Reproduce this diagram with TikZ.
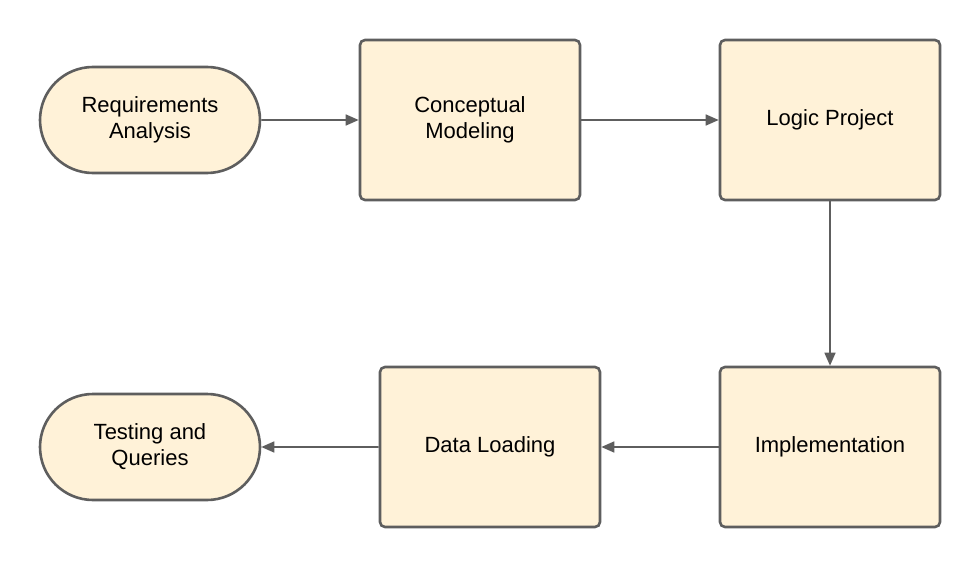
\documentclass[tikz,border=0pt]{standalone}
\usepackage{fontspec}
\setmainfont{Liberation Sans}
\usetikzlibrary{shapes.misc,arrows.meta}
\definecolor{boxfill}{HTML}{FFF2D8}
\definecolor{boxline}{HTML}{5E5E5E}
\begin{document}
\begin{tikzpicture}[x=1pt,y=-1pt,
  base/.style={draw=boxline,fill=boxfill,line width=2.6pt,align=center,
    font=\fontsize{22}{26}\selectfont,inner sep=0pt},
  procbox/.style={base,rounded corners=5pt,minimum width=220pt,minimum height=160pt},
  term/.style={base,rounded rectangle,minimum width=220pt,minimum height=106pt},
  conn/.style={draw=boxline,line width=1.6pt,-{Triangle[length=13pt,width=11pt]}}]
\useasboundingbox (0,0) rectangle (980,567);
\node[term] (ra) at (150,120) {Requirements\\Analysis};
\node[procbox] (cm) at (470,120) {Conceptual\\Modeling};
\node[procbox] (lp) at (830,120) {Logic Project};
\node[procbox] (im) at (830,447) {Implementation};
\node[procbox] (dl) at (490,447) {Data Loading};
\node[term] (tq) at (150,447) {Testing and\\Queries};
\draw[conn] (ra) -- (cm);
\draw[conn] (cm) -- (lp);
\draw[conn] (lp) -- (im);
\draw[conn] (im) -- (dl);
\draw[conn] (dl) -- (tq);
\end{tikzpicture}
\end{document}
